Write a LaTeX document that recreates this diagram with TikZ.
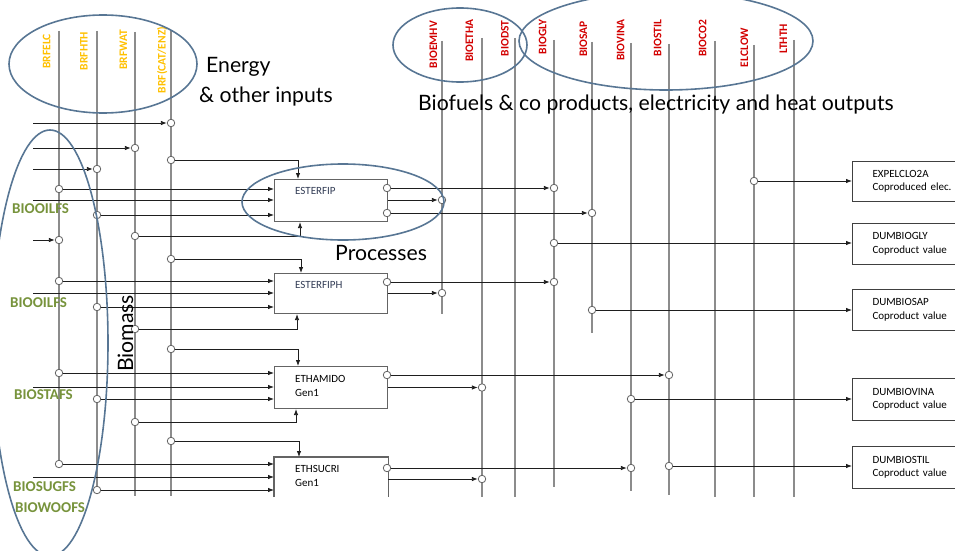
\documentclass[tikz,border=0pt]{standalone}
\usepackage{fontspec}
\setmainfont{Lato}
\newfontfamily\carlito{Carlito}
\usetikzlibrary{arrows.meta}
\definecolor{vline}{RGB}{140,140,140}
\definecolor{ellc}{RGB}{88,118,148}
\definecolor{redlab}{RGB}{210,0,0}
\definecolor{goldlab}{RGB}{255,192,0}
\definecolor{greenlab}{RGB}{119,147,60}
\definecolor{conncol}{RGB}{30,30,30}
\definecolor{boxcol}{RGB}{100,100,100}
\definecolor{navytxt}{RGB}{50,60,85}
\begin{document}
\begin{tikzpicture}[x=1pt,y=-1pt,
 commline/.style={draw=vline,line width=1.3pt},
 conn/.style={draw=conncol,line width=0.8pt},
 arr/.style={conn,-{Latex[length=6pt,width=4.5pt]}},
 jn/.style={circle,draw=boxcol,fill=white,line width=0.8pt,minimum size=7.5pt,inner sep=0pt},
 ell/.style={draw=ellc,line width=1.6pt},
 boxline/.style={draw=boxcol,line width=1.1pt},
 pbox/.style={boxline,rectangle,minimum width=113pt,inner sep=0pt,anchor=north west},
 ptext/.style={font=\carlito\fontsize{11}{13.5}\selectfont,anchor=base west,inner sep=0pt},
 rbox/.style={draw=conncol!85,line width=1pt,rectangle,anchor=north west,align=left,text width=90pt,inner xsep=20pt,inner ysep=0pt,font=\carlito\fontsize{11}{13.5}\selectfont},
 rlab/.style={rotate=90,font=\carlito\bfseries\fontsize{11.5}{11.5}\selectfont,text=redlab,inner sep=0pt},
 glab/.style={rotate=90,font=\carlito\bfseries\fontsize{11.5}{11.5}\selectfont,text=goldlab,inner sep=0pt},
 biolab/.style={font=\carlito\bfseries\fontsize{15}{15}\selectfont,text=greenlab,anchor=base west,inner sep=0pt},
 big/.style={font=\fontsize{21.2}{25}\selectfont,anchor=base west,inner sep=0pt}
]
\useasboundingbox (0,0) rectangle (955,551);
% ---------- commodity lines ----------
\coordinate (elcT) at (59,31);   \coordinate (elcB) at (59,464);
\coordinate (hthT) at (97,31);   \coordinate (hthB) at (97,490);
\coordinate (watT) at (135,32);  \coordinate (watB) at (135,496);
\coordinate (catT) at (171,30);  \coordinate (catB) at (171,496);
\coordinate (emhvT) at (442,41); \coordinate (emhvB) at (442,314);
\coordinate (ethaT) at (482,38); \coordinate (ethaB) at (482,497);
\coordinate (dstT) at (515,38);  \coordinate (dstB) at (515,497);
\coordinate (glyT) at (554,40);  \coordinate (glyB) at (554,487);
\coordinate (sapT) at (592,42);  \coordinate (sapB) at (592,333);
\coordinate (vinaT) at (631,43); \coordinate (vinaB) at (631,491);
\coordinate (stilT) at (669,44); \coordinate (stilB) at (669,495);
\coordinate (co2T) at (715,41);  \coordinate (co2B) at (715,497);
\coordinate (elwT) at (754,45);  \coordinate (elwB) at (754,497);
\coordinate (lthT) at (794,40);  \coordinate (lthB) at (794,497);
\foreach \a in {elc,hth,wat,cat,emhv,etha,dst,gly,sap,vina,stil,co2,elw,lth}
  \draw[commline] (\a T) -- (\a B);
% ---------- vertical labels ----------
\node[glab] (lelc) at (46.7,51.5) {BRFELC};
\node[glab] (lhth) at (84,51) {BRFHTH};
\node[glab] (lwat) at (123.3,50) {BRFWAT};
\node[glab] (lcat) at (162.3,60) {BRF(CAT/ENZ)};
\node[rlab] (lemhv) at (433.3,44.5) {BIOEMHV};
\node[rlab] (letha) at (469.3,40.5) {BIOETHA};
\node[rlab] (ldst) at (505,38.5) {BIODST};
\node[rlab] (lgly) at (542.7,37) {BIOGLY};
\node[rlab] (lsap) at (583.3,39) {BIOSAP};
\node[rlab] (lvina) at (620.7,40) {BIOVINA};
\node[rlab] (lstil) at (657.7,38) {BIOSTIL};
\node[rlab] (lco2) at (702.7,38.5) {BIOCO2};
\node[rlab] (lelw) at (744.3,47.5) {ELCLOW};
\node[rlab] (llth) at (783.3,39) {LTHTH};
% ---------- process boxes ----------
\node[pbox,minimum height=42pt] (es1) at (274,179) {};
\node[pbox,minimum height=40pt] (es2) at (274,273) {};
\node[pbox,minimum height=42pt] (eta) at (274,366) {};
\node[pbox,draw=none,minimum height=39pt] (ets) at (274,457) {};
\draw[boxline] (ets.south west) -- (ets.north west) -- (ets.north east) -- (ets.south east);
\node[ptext,text=navytxt] (t1) at (295,194) {ESTERFIP};
\node[ptext,text=navytxt] (t2) at (295,288) {ESTERFIPH};
\node[ptext] (t3) at (295,382) {ETHAMIDO};
\node[ptext] (t3b) at (295,396) {Gen1};
\node[ptext] (t4) at (295,472) {ETHSUCRI};
\node[ptext] (t4b) at (295,486) {Gen1};
% ---------- right boxes ----------
\node[rbox,minimum height=40pt] (bexp) at (852,161) {EXPELCLO2A\\Coproduced elec.};
\node[rbox,minimum height=41pt] (bgly) at (852,223) {DUMBIOGLY\\Coproduct value};
\node[rbox,minimum height=41pt] (bsap) at (852,289) {DUMBIOSAP\\Coproduct value};
\node[rbox,minimum height=42pt] (bvina) at (852,378) {DUMBIOVINA\\Coproduct value};
\node[rbox,minimum height=42pt] (bstil) at (852,446) {DUMBIOSTIL\\Coproduct value};
% ---------- junctions on input lines ----------
\node[jn] (cat1) at (171,123) {};
\node[jn] (wat1) at (135,148) {};
\node[jn] (hth1) at (97,169) {};
\node[jn] (cat2) at (171,160) {};
\node[jn] (elc1) at (59,189) {};
\node[jn] (hth2) at (97,215) {};
\node[jn] (wat2) at (135,236) {};
\node[jn] (elc0) at (59,240) {};
\node[jn] (cat3) at (171,259) {};
\node[jn] (elc2) at (59,281) {};
\node[jn] (hth3) at (97,307) {};
\node[jn] (wat3) at (135,329) {};
\node[jn] (cat4) at (171,349) {};
\node[jn] (elc3) at (59,373) {};
\node[jn] (hth4) at (97,399) {};
\node[jn] (wat4) at (135,422) {};
\node[jn] (cat5) at (171,441) {};
\node[jn] (elc4) at (59,464) {};
\node[jn] (hth5) at (97,490) {};
\coordinate (in1) at (33,123);
\coordinate (in2) at (33,148);
\coordinate (in3) at (33,169);
\coordinate (in4) at (33,240);
\coordinate (bo1) at (33,200);
\coordinate (bo2) at (33,293);
\coordinate (bst) at (33,387);
\coordinate (bsu) at (33,477);
% ---------- junctions on box outputs ----------
\node[jn] (es1o1) at (387,188) {};
\node[jn] (es1o2) at (387,213) {};
\node[jn] (es2o1) at (387,282) {};
\node[jn] (etao1) at (387,375) {};
\node[jn] (etso1) at (387,468) {};
% ---------- junctions on output lines ----------
\node[jn] (oemhv1) at (442,200) {};
\node[jn] (oemhv2) at (442,293) {};
\node[jn] (ogly1) at (554,188) {};
\node[jn] (ogly2) at (554,282) {};
\node[jn] (ogly3) at (554,243) {};
\node[jn] (osap1) at (592,213) {};
\node[jn] (osap2) at (592,310) {};
\node[jn] (oeth1) at (482,387.5) {};
\node[jn] (oeth2) at (482,479) {};
\node[jn] (ostil1) at (669,375) {};
\node[jn] (ostil2) at (669,466) {};
\node[jn] (ovina1) at (631,468) {};
\node[jn] (ovina2) at (631,399) {};
\node[jn] (oelc) at (754,181) {};
% ---------- input connectors ----------
\draw[arr] (in1) -- (cat1);
\draw[arr] (in2) -- (wat1);
\draw[arr] (in3) -- (hth1);
\draw[arr] (in4) -- (elc0);
% ESTERFIP
\draw[arr] (cat2) -| ([xshift=24pt]es1.north west);
\draw[arr] (elc1) -- (elc1 -| es1.west);
\draw[arr] (bo1) -- (bo1 -| es1.west);
\draw[arr] (hth2) -- (hth2 -| es1.west);
\draw[arr] (wat2) -| ([xshift=26pt]es1.south west);
% ESTERFIPH
\draw[arr] (cat3) -| ([xshift=27pt]es2.north west);
\draw[arr] (elc2) -- (elc2 -| es2.west);
\draw[arr] (bo2) -- (bo2 -| es2.west);
\draw[arr] (hth3) -- (hth3 -| es2.west);
\draw[arr] (wat3) -| ([xshift=23pt]es2.south west);
% ETHAMIDO
\draw[arr] (cat4) -| ([xshift=24pt]eta.north west);
\draw[arr] (elc3) -- (elc3 -| eta.west);
\draw[arr] (bst) -- (bst -| eta.west);
\draw[arr] (hth4) -- (hth4 -| eta.west);
\draw[arr] (wat4) -| ([xshift=22pt]eta.south west);
% ETHSUCRI
\draw[arr] (cat5) -| ([xshift=25pt]ets.north west);
\draw[arr] (elc4) -- (elc4 -| ets.west);
\draw[arr] (bsu) -- (bsu -| ets.west);
\draw[arr] (hth5) -- (hth5 -| ets.west);
% ---------- output connectors ----------
\draw[arr] (es1o1) -- (ogly1);
\draw[arr] (oemhv1 -| es1.east) -- (oemhv1);
\draw[arr] (es1o2) -- (osap1);
\draw[arr] (es2o1) -- (ogly2);
\draw[arr] (oemhv2 -| es2.east) -- (oemhv2);
\draw[arr] (etao1) -- (ostil1);
\draw[arr] (oeth1 -| eta.east) -- (oeth1);
\draw[arr] (etso1) -- (ovina1);
\draw[arr] (oeth2 -| ets.east) -- (oeth2);
\draw[arr] (oelc) -- (oelc -| bexp.west);
\draw[arr] (ogly3) -- (ogly3 -| bgly.west);
\draw[arr] (osap2) -- (osap2 -| bsap.west);
\draw[arr] (ovina2) -- (ovina2 -| bvina.west);
\draw[arr] (ostil2) -- (ostil2 -| bstil.west);
% ---------- ellipses ----------
\draw[ell] (103,64) ellipse [x radius=94, y radius=49];
\draw[ell] (460,45) ellipse [x radius=67, y radius=37];
\draw[ell] (666,41) ellipse [x radius=147, y radius=49];
\draw[ell] (343,202) ellipse [x radius=101, y radius=38];
\draw[ell] (50,343) ellipse [x radius=58, y radius=213];
% ---------- texts ----------
\node[biolab] (g1) at (12,213) {BIOOILFS};
\node[biolab] (g2) at (10,307) {BIOOILFS};
\node[biolab] (g3) at (14,399) {BIOSTAFS};
\node[biolab] (g4) at (13,491) {BIOSUGFS};
\node[biolab] (g5) at (15,512) {BIOWOOFS};
\node[big] (tEnergy) at (206,73) {Energy};
\node[big] (tOther) at (199,102) {\& other inputs};
\node[big] (tBio) at (418,110) {Biofuels \& co products, electricity and heat outputs};
\node[big] (tProc) at (335,260) {Processes};
\node[big,rotate=90] (tBiom) at (133,372) {Biomass};
\end{tikzpicture}
\end{document}
